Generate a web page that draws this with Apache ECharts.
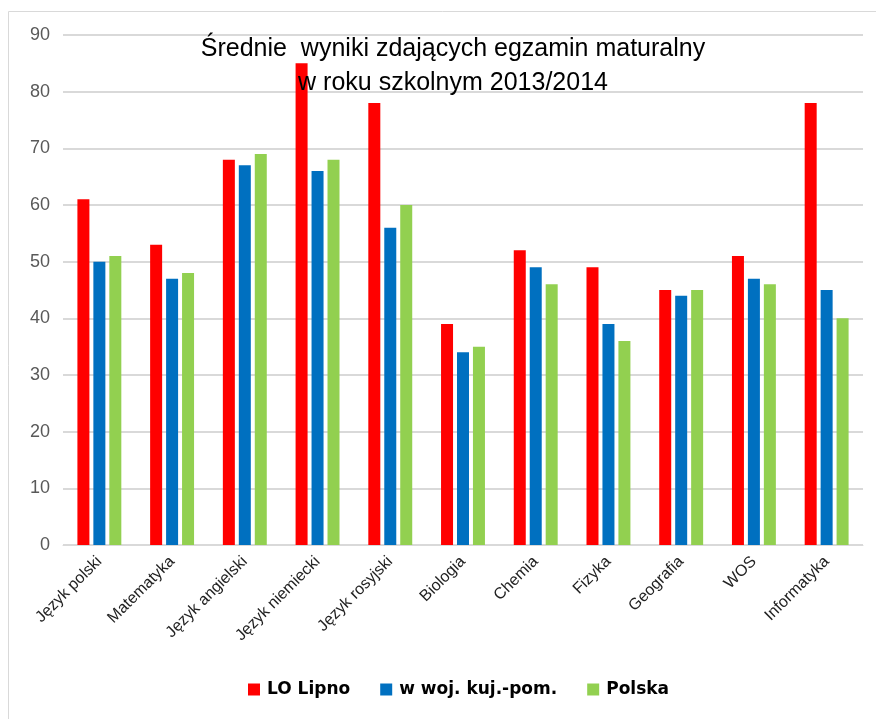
<!DOCTYPE html>
<html><head><meta charset="utf-8">
<script src="https://cdn.jsdelivr.net/npm/echarts@6/dist/echarts.min.js"></script>
<style>html,body{margin:0;padding:0;background:#fff}#c{width:876px;height:719px}</style>
</head><body><div id="c"></div>
<script>
const categories = ["Język polski","Matematyka","Język angielski","Język niemiecki","Język rosyjski","Biologia","Chemia","Fizyka","Geografia","WOS","Informatyka"];
const seriesNames = ["LO Lipno","w woj. kuj.-pom.","Polska"];
const loLipno = [61,53,68,85,78,39,52,49,45,51,78];
const wojewodztwo = [50,47,67,66,56,34,49,39,44,47,45];
const polska = [51,48,69,68,60,35,46,36,45,46,40];
const yTicks = {min:0, max:90, interval:10};
const colors = ["#ff0000","#0070c0","#92d050"];
const font = "'Liberation Sans',sans-serif";

const chart = echarts.init(document.getElementById('c'), null, {renderer:'canvas'});
const mk = (name, data, i) => ({
  name, type:'bar', data, barWidth:12, barGap:'33%',
  itemStyle:{color:colors[i]}
});
chart.setOption({
  animation:false,
  color:colors,
  graphic:[{type:'rect', shape:{x:8.5,y:11.5,width:900,height:800}, style:{fill:'none',stroke:'#d9d9d9',lineWidth:1}, z:-1}],
  title:{
    text:'Średnie  wyniki zdających egzamin maturalny\nw roku szkolnym 2013/2014',
    left:448, top:27, textAlign:'center',
    textStyle:{fontFamily:font, fontSize:25, fontWeight:'normal', color:'#000', lineHeight:34}
  },
  legend:{
    bottom:16, left:243, itemWidth:12, itemHeight:12, itemGap:30,
    icon:'rect',
    textStyle:{fontFamily:"'DejaVu Sans',sans-serif", fontSize:17, fontWeight:'bold', color:'#000', padding:[0,0,0,2]},
    data:seriesNames
  },
  grid:{left:63, right:13, top:35, bottom:174},
  xAxis:{
    type:'category', data:categories,
    axisLine:{lineStyle:{color:'#d9d9d9', width:1}},
    axisTick:{show:false},
    axisLabel:{rotate:45, interval:0, fontFamily:font, fontSize:16, color:'#222', margin:14}
  },
  yAxis:{
    type:'value', min:yTicks.min, max:yTicks.max, interval:yTicks.interval,
    axisLine:{show:false}, axisTick:{show:false},
    axisLabel:{fontFamily:font, fontSize:18, color:'#595959', margin:13},
    splitLine:{lineStyle:{color:'#d9d9d9', width:2}}
  },
  series:[mk(seriesNames[0],loLipno,0), mk(seriesNames[1],wojewodztwo,1), mk(seriesNames[2],polska,2)]
});
</script></body></html>
